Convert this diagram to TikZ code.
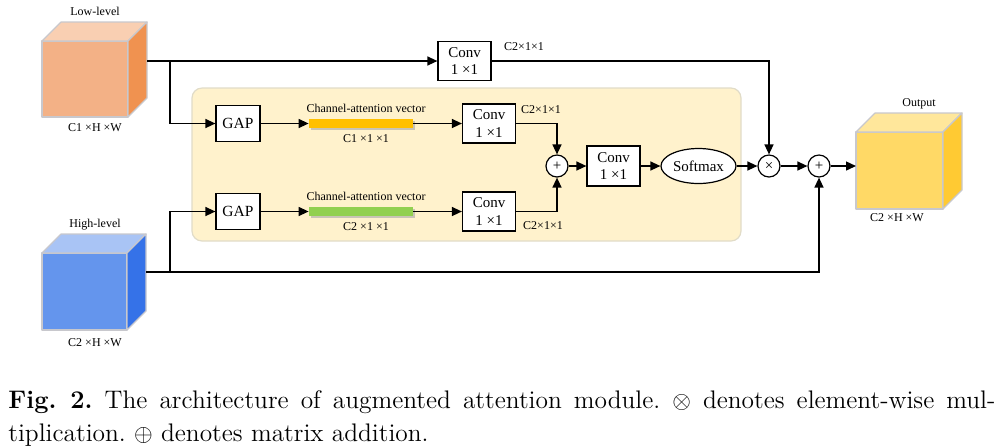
\documentclass[tikz,border=0pt]{standalone}
\usepackage{fontspec}
\newfontfamily\tnr{Liberation Serif}
\usetikzlibrary{arrows.meta,shapes.geometric,shadows}
\definecolor{lowfront}{RGB}{243,177,134}
\definecolor{lowtop}{RGB}{249,207,178}
\definecolor{lowside}{RGB}{240,146,80}
\definecolor{highfront}{RGB}{100,149,237}
\definecolor{hightop}{RGB}{169,196,245}
\definecolor{highside}{RGB}{53,114,232}
\definecolor{outfront}{RGB}{255,217,102}
\definecolor{outtop}{RGB}{255,231,155}
\definecolor{outside}{RGB}{255,202,51}
\definecolor{cubeline}{RGB}{200,200,205}
\definecolor{panelfill}{RGB}{255,242,204}
\definecolor{panelline}{RGB}{225,220,200}
\definecolor{barorange}{RGB}{255,192,0}
\definecolor{bargreen}{RGB}{146,208,80}
\newcommand\mycube[9]{%
  \filldraw[cubeedge, fill=#7] (#1,#2) rectangle (#3,#4);
  \filldraw[cubeedge, fill=#8] (#1,#2) -- ++(#5,#6) -- ++(#3-#1,0) -- (#3,#2) -- cycle;
  \filldraw[cubeedge, fill=#9] (#3,#2) -- ++(#5,#6) -- ++(0,#4-#2) -- (#3,#4) -- cycle;
}
\frenchspacing
\begin{document}
\begin{tikzpicture}[x=0.5pt,y=-0.5pt,
  cubeedge/.style={draw=cubeline, line width=0.6pt, line join=round},
  conn/.style={line width=0.7pt},
  arr/.style={conn, -{Triangle[length=5pt,width=4.5pt]}},
  box/.style={draw, line width=0.6pt, fill=white, align=center, inner sep=0pt,
    font=\tnr\fontsize{7.5}{8.6}\selectfont},
  convbox/.style={box, minimum width=26.5pt, minimum height=19.5pt},
  gapbox/.style={box, minimum width=22pt, minimum height=18pt, font=\tnr\fontsize{7.75}{9}\selectfont},
  softbox/.style={box, ellipse, minimum width=37.5pt, minimum height=17.5pt},
  opnode/.style={draw, circle, minimum size=11pt, inner sep=0pt, fill=white, line width=0.6pt,
    font=\tnr\fontsize{7.5}{8}\selectfont},
  smlab/.style={font=\tnr\fontsize{6}{7}\selectfont, inner sep=0pt},
  barnode/.style={minimum width=52pt, minimum height=4.5pt, inner sep=0pt,
    drop shadow={shadow xshift=1pt, shadow yshift=-1pt, fill=gray!70, opacity=0.6}},
  capfont/.style={font=\fontsize{12.7}{16.5}\selectfont, inner sep=0pt, anchor=base west}
]
\useasboundingbox (0,0) rectangle (1007,447);

% panel
\draw[panelline, fill=panelfill, line width=0.6pt, rounded corners=5pt] (192,88) rectangle (741,241);

% cubes
\mycube{42}{41}{128}{117}{19}{-19}{lowfront}{lowtop}{lowside}
\mycube{42}{253}{127}{330}{19}{-19}{highfront}{hightop}{highside}
\mycube{856}{132}{943}{209}{19}{-19}{outfront}{outtop}{outside}

\node[smlab] (lowlab) at (95,11) {Low-level};
\node[smlab] (lowdim) at (95,128) {C1 ×H ×W};
\node[smlab] (highlab) at (95,225) {High-level};
\node[smlab] (highdim) at (95,343) {C2 ×H ×W};
\node[smlab] (outlab) at (919,104) {Output};
\node[smlab] (outdim) at (897,218) {C2 ×H ×W};

\coordinate (lowR) at (147,61);
\coordinate (br1) at (170,61);
\coordinate (highR) at (146,272);
\coordinate (br2) at (170,272);
\coordinate (outL) at (856,166);

% nodes
\node[convbox] (conv0) at (464.5,61) {Conv\\1 ×1};
\node[gapbox] (gap1) at (238,123.5) {GAP};
\node[gapbox] (gap2) at (238,211.5) {GAP};
\node[barnode, fill=barorange] (bar1) at (361,123.5) {};
\node[barnode, fill=bargreen] (bar2) at (361,211.5) {};
\node[smlab] (cav1) at (366,108) {Channel-attention vector};
\node[smlab] (cav2) at (366,196) {Channel-attention vector};
\node[smlab] (b1dim) at (366,139) {C1 ×1 ×1};
\node[smlab] (b2dim) at (366,227) {C2 ×1 ×1};
\node[convbox] (conv1) at (489,123.5) {Conv\\1 ×1};
\node[convbox] (conv2) at (489,211.5) {Conv\\1 ×1};
\node[opnode] (plus1) at (557,166) {+};
\node[convbox, minimum height=20pt] (conv3) at (613.5,166) {Conv\\1 ×1};
\node[softbox] (soft) at (698.5,166) {Softmax};
\node[opnode] (times) at (769,166) {×};
\node[opnode] (plus2) at (819,166) {+};

\node[smlab] (c0dim) at (524,47) {C2×1×1};
\node[smlab] (c1dim) at (541,110) {C2×1×1};
\node[smlab] (c2dim) at (543,226) {C2×1×1};

% connectors
\draw[arr] (lowR) -- (conv0.west);
\draw[arr] (br1) |- (gap1.west);
\draw[arr] (gap1.east) -- (bar1.west);
\draw[arr] (bar1.east) -- (conv1.west);
\draw[arr] (conv1.east) -| (plus1.north);
\draw[conn] (highR) -- (br2);
\draw[arr] (br2) |- (gap2.west);
\draw[arr] (gap2.east) -- (bar2.west);
\draw[arr] (bar2.east) -- (conv2.west);
\draw[arr] (conv2.east) -| (plus1.south);
\draw[arr] (plus1.east) -- (conv3.west);
\draw[arr] (conv3.east) -- (soft.west);
\draw[arr] (soft.east) -- (times.west);
\draw[arr] (conv0.east) -| (times.north);
\draw[arr] (times.east) -- (plus2.west);
\draw[arr] (br2) -| (plus2.south);
\draw[arr] (plus2.east) -- (outL);

% caption
\node[capfont] (cap1) at (8,408) {\makebox[493.5pt][s]{\textbf{Fig. 2.} The architecture of augmented attention module. $\otimes$ denotes element-wise mul-}};
\node[capfont] (cap2) at (8,441) {tiplication. $\oplus$ denotes matrix addition.};
\end{tikzpicture}
\end{document}
